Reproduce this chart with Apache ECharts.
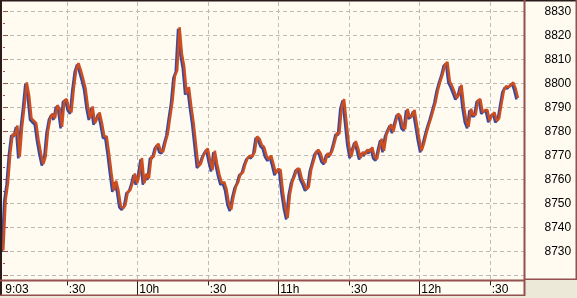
<!DOCTYPE html>
<html><head><meta charset="utf-8">
<script src="https://cdn.jsdelivr.net/npm/echarts@6/dist/echarts.min.js"></script>
<style>html,body{margin:0;padding:0;background:#ECE9D8;}#c{width:577px;height:298px;}</style>
</head><body><div id="c"></div>
<script>
// one value per minute, starting 9:03
const prices = [
8730.5,8751.5,8758.5,8771,8779,8778.5,8782.5,8769.5,8782,8790.5,
8800.5,8795,8785.5,8784.5,8783.5,8776.5,8771,8766.5,8769.5,8780,
8785.5,8787.5,8785.5,8791,8789.5,8782,8793,8793.5,8789.5,8788,
8798,8805.5,8808.5,8805.5,8802,8798,8790.5,8785.5,8790.5,8783.5,
8785.5,8788,8783.5,8778,8778,8771,8763,8755.5,8759.5,8755.5,
8749,8748,8749.5,8755,8755.5,8758.5,8762.5,8758.5,8762.5,8769,
8758.5,8762.5,8760.5,8769.5,8769.5,8773.5,8775,8772,8771.5,8775.5,
8779,8786,8792.5,8803,8805.5,8823.5,8812.5,8807,8796,8798.5,
8790.5,8783.5,8774.5,8765.5,8766.5,8769.5,8771.5,8773,8768,8764,
8772,8766.5,8762,8758.5,8759,8756,8750,8747.5,8753,8757,
8759,8762.5,8763,8766.5,8769,8770,8769.5,8771.5,8778,8777,
8774.5,8773.5,8770,8768.5,8770,8766.5,8762.5,8764.5,8764,8755,
8748.5,8744,8754,8759,8761.5,8764.5,8764.5,8760.5,8758.5,8756,
8757,8764,8767.5,8771,8772.5,8771,8768,8767,8771,8770,
8772,8775.5,8779.5,8779,8790,8793.5,8784.5,8775,8769.5,8773,
8776,8773,8769,8771.5,8770.5,8772.5,8771.5,8773.5,8769.5,8768.5,
8773,8777,8772,8778.5,8781,8783,8780,8784,8787.5,8786.5,
8782,8781,8789.5,8786,8786.5,8789,8783,8777,8772,8775,
8779,8782.5,8785.5,8789,8792.5,8797.5,8801,8804,8808,8809,
8801,8799,8796.5,8794,8795.5,8799.5,8790.5,8784.5,8782,8789.5,
8787,8787,8793,8793.5,8788,8789,8789,8784.5,8787,8788,
8784.5,8785.5,8791.5,8797,8799,8798.5,8799.5,8800.5,8798,8794
];
const slotCount = 222; // 9:03 .. 12:44
const tickIndex = [0, 27, 57, 87, 117, 147, 177, 207];
const tickLabels = ['9:03', ':30', '10h', ':30', '11h', ':30', '12h', ':30'];
const hourIndex = [57, 117, 177];
const halfIndex = [27, 87, 147, 207];
const yMin = 8720, yMax = 8830, yStep = 10;

const slots = Array.from({length: slotCount}, (_, i) => i);
const labelOf = {};
tickIndex.forEach((k, j) => { labelOf[k] = tickLabels[j]; });

const cream = '#FFFBF0', brown = '#94504E', dark = '#2B1C1C', gridCol = '#BDBBB4';
const PL = 3.3, SLOT = 2.35, GW = SLOT * (slotCount - 1), GH = 278.4;

const chart = echarts.init(document.getElementById('c'), null, {renderer: 'canvas'});
chart.setOption({
  animation: false,
  backgroundColor: cream,
  grid: [
    {left: PL, top: 2, width: GW, height: GH},
    {left: PL - 1.5, top: 3.5, width: GW, height: GH},
    {left: 3, top: 11.6, right: 52.5, height: 264},
    {left: PL, top: 2, width: GW, height: GH}
  ],
  xAxis: [
    {gridIndex: 0, type: 'category', data: slots, boundaryGap: false,
     axisLine: {show: false},
     axisTick: {show: true, interval: i => halfIndex.includes(i), length: 5, lineStyle: {color: dark}},
     axisLabel: {show: true, interval: i => tickIndex.includes(i), formatter: (v, i) => labelOf[i] || '',
       align: 'left', padding: [0, 0, 0, 2], margin: 3, color: '#000', fontSize: 12, fontFamily: 'Liberation Sans'},
     splitLine: {show: true, interval: i => tickIndex.includes(i) && i > 0, lineStyle: {type: [4, 3], color: gridCol, width: 1}}},
    {gridIndex: 1, type: 'category', data: slots, boundaryGap: false, show: false},
    {gridIndex: 2, type: 'value', show: false},
    {gridIndex: 3, type: 'category', data: slots, boundaryGap: false,
     axisLine: {show: false}, axisLabel: {show: false}, splitLine: {show: false},
     axisTick: {show: true, interval: i => hourIndex.includes(i), length: 15, lineStyle: {color: dark, width: 1}}}
  ],
  yAxis: [
    {gridIndex: 0, type: 'value', min: 8718, max: 8834, show: false},
    {gridIndex: 1, type: 'value', min: 8718, max: 8834, show: false},
    {gridIndex: 2, type: 'value', min: yMin, max: yMax, interval: yStep, position: 'right',
     axisLine: {show: false},
     axisTick: {show: true, inside: false, length: 5, lineStyle: {color: brown}},
     minorTick: {show: true, splitNumber: 2, length: 2, lineStyle: {color: brown}},
     axisLabel: {show: true, margin: 20, align: 'left', color: '#000', fontSize: 12, fontFamily: 'Liberation Sans',
       formatter: v => (v === yMin ? '' : String(v))},
     splitLine: {show: true, lineStyle: {type: [4, 3], color: gridCol, width: 1}}},
    {gridIndex: 3, type: 'value', show: false}
  ],
  series: [
    {name: 'low', type: 'line', xAxisIndex: 1, yAxisIndex: 1, data: prices, showSymbol: false, symbol: 'none',
     lineStyle: {color: '#3B4A9C', width: 2.5}, z: 2},
    {name: 'price', type: 'line', xAxisIndex: 0, yAxisIndex: 0, data: prices, showSymbol: false, symbol: 'none',
     lineStyle: {color: '#CC4D1F', width: 2.5}, z: 3}
  ],
  graphic: [
    {type: 'rect', shape: {x: 525, y: 280, width: 52, height: 18}, style: {fill: '#ECE9D8'}, z: 100},
    {type: 'rect', shape: {x: 0, y: 296, width: 577, height: 2}, style: {fill: '#ECE9D8'}, z: 100},
    {type: 'rect', shape: {x: 0, y: 0, width: 2, height: 296}, style: {fill: dark}, z: 100},
    {type: 'rect', shape: {x: 0, y: 0, width: 577, height: 1.5}, style: {fill: dark}, z: 100},
    {type: 'rect', shape: {x: 523.5, y: 0, width: 2, height: 296}, style: {fill: brown}, z: 100},
    {type: 'rect', shape: {x: 0, y: 279.5, width: 525, height: 2}, style: {fill: brown}, z: 100},
    {type: 'rect', shape: {x: 0, y: 294.5, width: 525, height: 1.5}, style: {fill: brown}, z: 100},
    {type: 'rect', shape: {x: 525, y: 278.5, width: 52, height: 1.5}, style: {fill: brown}, z: 100},
    {type: 'rect', shape: {x: 575.5, y: 0, width: 1.5, height: 280}, style: {fill: brown}, z: 100}
  ]
});
</script></body></html>
